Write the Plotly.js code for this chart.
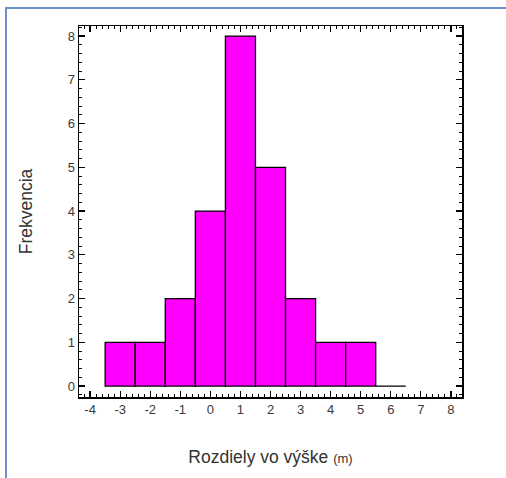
<!DOCTYPE html>
<html>
<head>
<meta charset="utf-8">
<script src="https://cdn.plot.ly/plotly-3.0.1.min.js"></script>
<style>
  html, body { margin: 0; padding: 0; background: #fff; }
  #wrap { position: relative; width: 506px; height: 478px; }
  #chart { width: 506px; height: 478px; }
  #frame { position: absolute; left: 5px; top: 7px; width: 501px; height: 471px;
           border-top: 2px solid #6a92cf; border-left: 2px solid #6a92cf;
           pointer-events: none; box-sizing: border-box; }
</style>
</head>
<body>
<div id="wrap">
  <div id="chart"></div>
  <div id="frame"></div>
</div>
<script>
const binCenters = [-3, -2, -1, 0, 1, 2, 3, 4, 5, 6];
const counts = [1, 1, 2, 4, 8, 5, 2, 1, 1, 0];
const xTickVals = [-4, -3, -2, -1, 0, 1, 2, 3, 4, 5, 6, 7, 8];
const xTickText = ['-4', '-3', '-2', '-1', '0', '1', '2', '3', '4', '5', '6', '7', '8'];
const yTickVals = [0, 1, 2, 3, 4, 5, 6, 7, 8];
const xTitle = "Rozdiely vo výške <span style='font-size:13px'>(m)</span>";
const yTitle = "Frekvencia";

const trace = {
  type: 'bar',
  x: binCenters,
  y: counts,
  width: 1,
  marker: { color: '#ff00ff', line: { color: '#000000', width: 1.3 } },
  hoverinfo: 'x+y'
};

const tickFont = { family: 'Liberation Sans, Arial, sans-serif', size: 13, color: '#3a3a3a' };
const titleFont = { family: 'Liberation Sans, Arial, sans-serif', size: 17.5, color: '#333333' };

const layout = {
  width: 506, height: 478,
  margin: { l: 79, r: 44, t: 26, b: 81 },
  paper_bgcolor: '#ffffff', plot_bgcolor: '#ffffff',
  showlegend: false,
  bargap: 0,
  xaxis: {
    range: [-4.37, 8.37],
    tickvals: xTickVals,
    ticktext: xTickText,
    ticks: 'inside', ticklen: 6, tickwidth: 1.3, tickcolor: '#000',
    showline: true, linecolor: '#000', linewidth: 1.5, mirror: 'allticks',
    showgrid: false, zeroline: false,
    tickfont: tickFont,
    minor: { dtick: 0.2, ticks: 'inside', ticklen: 3, tickwidth: 1, tickcolor: '#000', showgrid: false },
    title: { text: xTitle, font: titleFont, standoff: 34 }
  },
  yaxis: {
    range: [-0.25, 8.23],
    tickvals: yTickVals,
    ticks: 'inside', ticklen: 6, tickwidth: 1.3, tickcolor: '#000',
    showline: true, linecolor: '#000', linewidth: 1.5, mirror: 'allticks',
    showgrid: false, zeroline: false,
    tickfont: tickFont,
    minor: { dtick: 0.2, ticks: 'inside', ticklen: 3, tickwidth: 1, tickcolor: '#000', showgrid: false },
    title: { text: yTitle, font: titleFont, standoff: 30 }
  }
};

Plotly.newPlot('chart', [trace], layout, { displayModeBar: false, staticPlot: true });
</script>
</body>
</html>
